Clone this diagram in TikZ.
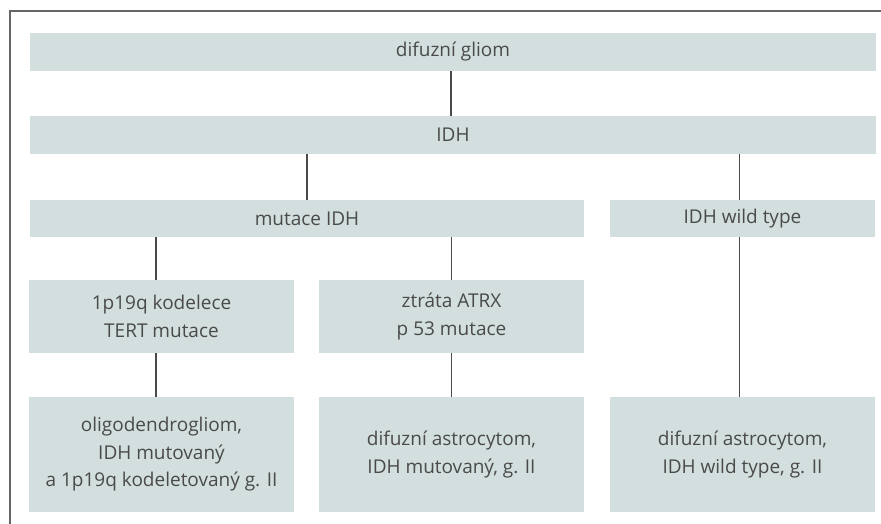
\documentclass[tikz,border=0pt]{standalone}
\usepackage{fontspec}
\setmainfont{Open Sans}
\definecolor{boxfill}{HTML}{D2DFDE}
\definecolor{txt}{HTML}{4A4A4A}
\definecolor{ln}{HTML}{4A4A4A}
\definecolor{frame}{HTML}{666666}
\begin{document}
\begin{tikzpicture}[x=1pt,y=-1pt,
  box/.style={fill=boxfill,draw=none,inner sep=0pt,align=center,text=txt,
    font=\fontsize{19}{27.5}\selectfont},
  conn/.style={draw=ln,line width=1.1pt}]
\useasboundingbox (0,0) rectangle (881,524);
\fill[white] (0,0) rectangle (881,524);
\draw[frame,line width=1.6pt] (10,524) -- (10,11) -- (881,11);
\node[box,minimum width=846pt,minimum height=38pt] (A) at (453,52) {difuzní gliom};
\node[box,minimum width=846pt,minimum height=38pt] (B) at (453,135) {IDH};
\node[box,minimum width=554pt,minimum height=37pt] (C) at (307,218.5) {mutace IDH};
\node[box,minimum width=265pt,minimum height=37pt] (D) at (742.5,218.5) {IDH wild type};
\node[box,minimum width=265pt,minimum height=73pt] (E) at (161.5,316.5) {1p19q kodelece\\TERT mutace};
\node[box,minimum width=265pt,minimum height=73pt] (F) at (451.5,316.5) {ztráta ATRX\\p 53 mutace};
\node[box,minimum width=265pt,minimum height=115pt] (G) at (161.5,454.5) {oligodendrogliom,\\IDH mutovaný\\a 1p19q kodeletovaný g. II};
\node[box,minimum width=265pt,minimum height=115pt] (H) at (451.5,454.5) {difuzní astrocytom,\\IDH mutovaný, g. II};
\node[box,minimum width=265pt,minimum height=115pt] (I) at (742.5,454.5) {difuzní astrocytom,\\IDH wild type, g. II};
\draw[conn] ([xshift=-2pt]A.south) -- ([xshift=-2pt]B.north);
\draw[conn] (B.south -| C.north) -- (C.north);
\draw[conn] ([xshift=-3pt]B.south -| D.north) -- ([xshift=-3pt]D.north);
\draw[conn] ([xshift=-5.5pt]C.south -| E.north) -- ([xshift=-5.5pt]E.north);
\draw[conn] (C.south -| F.north) -- (F.north);
\draw[conn] ([xshift=-5.5pt]E.south) -- ([xshift=-5.5pt]G.north);
\draw[conn] (F.south) -- (H.north);
\draw[conn] ([xshift=-3pt]D.south) -- ([xshift=-3pt]I.north);
\end{tikzpicture}
\end{document}
